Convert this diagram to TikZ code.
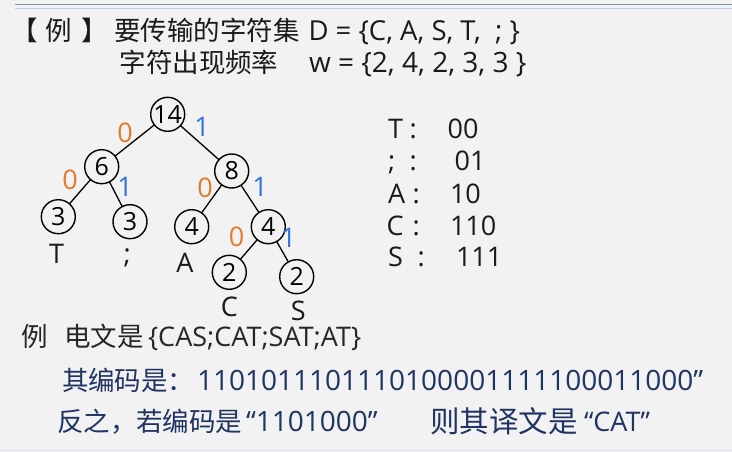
\documentclass[tikz,border=0pt]{standalone}
\usepackage{fontspec}
\setmainfont{Open Sans}
\newfontfamily\cjk{Noto Sans CJK SC}
\definecolor{bgc}{HTML}{F2F2F2}
\definecolor{ruleA}{HTML}{8097B9}
\definecolor{ruleB}{HTML}{B9CBE5}
\definecolor{ruleC}{HTML}{DDE4EE}
\definecolor{navy}{HTML}{1F3463}
\definecolor{dgray}{HTML}{262626}
\definecolor{ink}{HTML}{1A1A1A}
\definecolor{orng}{HTML}{E27B2C}
\definecolor{blu}{HTML}{2F74E0}
\newcommand{\fsz}[1]{\fontsize{#1}{#1}\selectfont}
\begin{document}
\begin{tikzpicture}[x=1pt,y=-1pt,
  every node/.style={inner sep=0pt, outer sep=0pt},
  txt/.style={anchor=base west, text=ink},
  cj/.style={font=\cjk\fsz{26.5}},
  la/.style={font=\fsz{#1}},
  hnode/.style={circle, draw=black, line width=1.4pt, minimum size=34pt, font=\fsz{25}},
  leaflab/.style={anchor=base, font=\fsz{27}, text=ink},
  zero/.style={font=\fsz{27}, text=orng},
  one/.style={font=\fsz{27}, text=blu},
  tedge/.style={line width=1.3pt, black},
  code/.style={anchor=base west, font=\fsz{27}, text=ink}]
\fill[bgc] (0,0) rectangle (732,452);
\useasboundingbox (0,0) rectangle (732,452);
% top rules
\draw[ruleA, line width=1.8pt] (15,4.5) -- (732,4.5);
\draw[ruleB, line width=1.8pt] (15,8.6) -- (732,8.6);
\draw[ruleC, line width=1pt] (0,450.5) -- (732,450.5);
% heading
\node[txt, cj] (b1) at (12,41) {【};
\node[txt, cj] (b2) at (45.5,41) {例};
\node[txt, cj] (b3) at (81,41) {】};
\node[txt, cj] (t1) at (114,41) {要传输的字符集};
\node[txt, la=27.5] (t2) at (308.5,41) {D = \{C, A, S, T,\ \ ;\ \}};
\node[txt, cj] (t3) at (119.5,73) {字符出现频率};
\node[txt, la=28] (t4) at (309,73) {w = \{2, 4, 2, 3, 3\ \}};
% tree
\node[hnode] (n14) at (167.7,114.3) {14};
\node[hnode] (n6) at (101.7,166.7) {6};
\node[hnode] (n8) at (231.7,171) {8};
\node[hnode] (nT) at (58.3,216.7) {3};
\node[hnode] (nSemi) at (130,221.7) {3};
\node[hnode] (nA) at (191.7,226.7) {4};
\node[hnode] (n4) at (268.3,226.7) {4};
\node[hnode] (nC) at (229.3,272.3) {2};
\node[hnode] (nS) at (296.7,276.7) {2};
\draw[tedge] (n14) -- (n6);
\draw[tedge] (n14) -- (n8);
\draw[tedge] (n6) -- (nT);
\draw[tedge] (n6) -- (nSemi);
\draw[tedge] (n8) -- (nA);
\draw[tedge] (n8) -- (n4);
\draw[tedge] (n4) -- (nC);
\draw[tedge] (n4) -- (nS);
\node[zero] (z1) at (125,133.3) {0};
\node[one] (o1) at (202,126.7) {1};
\node[zero] (z2) at (70,180) {0};
\node[one] (o2) at (125,186.7) {1};
\node[zero] (z3) at (205,188.3) {0};
\node[one] (o3) at (260,186.7) {1};
\node[zero] (z4) at (236.7,236.7) {0};
\node[one] (o4) at (288.5,238.3) {1};
\node[leaflab] (lT) at (56.7,263.5) {T};
\node[leaflab] (lSemi) at (127.3,263) {;};
\node[leaflab] (lA) at (185,272.5) {A};
\node[leaflab] (lC) at (229.3,316.5) {C};
\node[leaflab] (lS) at (298.3,320.5) {S};
% code table
\node[code] (k1) at (388,139) {T};
\node[code] (k1c) at (409.5,139) {:};
\node[code] (k1v) at (447.7,139) {00};
\node[code] (k2) at (388,171) {;};
\node[code] (k2c) at (409.5,171) {:};
\node[code] (k2v) at (454.7,171) {01};
\node[code] (k3) at (388,203) {A};
\node[code] (k3c) at (412.5,203) {:};
\node[code] (k3v) at (450,203) {10};
\node[code] (k4) at (386.5,235) {C};
\node[code] (k4c) at (412.5,235) {:};
\node[code] (k4v) at (450,235) {110};
\node[code] (k5) at (388,266.7) {S};
\node[code] (k5c) at (417.5,266.7) {:};
\node[code] (k5v) at (456,266.7) {111};
% bottom text
\node[txt, cj, text=dgray] (e1) at (21.5,346.7) {例};
\node[txt, cj, text=dgray] (e2) at (64,346.7) {电文是};
\node[txt, la=27, text=dgray] (e3) at (148,346.7) {\{CAS;CAT;SAT;AT\}};
\node[txt, cj, text=navy] (c1) at (62,390) {其编码是：};
\node[txt, la=28, text=navy] (c2) at (197,390) {1101011101110100001111100011000”};
\node[txt, cj, text=navy] (d1) at (57,431.7) {反之，若编码是};
\node[txt, la=28, text=navy] (d2) at (246,431.7) {“1101000”};
\node[txt, font=\cjk\fsz{29.5}, text=navy] (d3) at (430,432.5) {则其译文是};
\node[txt, la=27, text=navy] (d4) at (584,431.7) {“CAT”};
\end{tikzpicture}
\end{document}
